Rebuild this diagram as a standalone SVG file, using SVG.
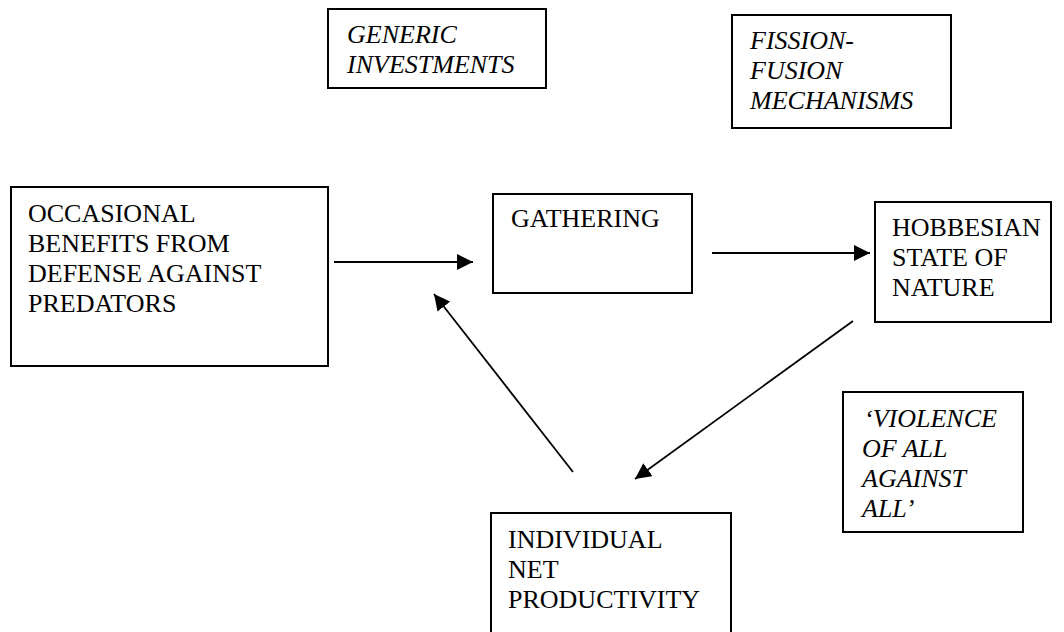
<svg xmlns="http://www.w3.org/2000/svg" width="1064" height="632" viewBox="0 0 1064 632">
<style>
.box{fill:#fff;stroke:#000;stroke-width:2}
.t{font-family:'Liberation Serif','Times New Roman',serif;font-size:26px;fill:#000}
.i{font-style:italic}
.c{stroke:#000;stroke-width:1.8;fill:none}
</style>
<defs>
<marker id="ah" markerUnits="userSpaceOnUse" markerWidth="17" markerHeight="17" refX="16" refY="8" orient="auto">
<path d="M0,0 L16,8 L0,16 z" fill="#000"/>
</marker>
</defs>
<rect width="1064" height="632" fill="#fff"/>
<g id="generic">
<rect class="box" x="328" y="9" width="218" height="79"/>
<text class="t i"><tspan x="347" y="43">GENERIC</tspan><tspan x="347" y="73">INVESTMENTS</tspan></text>
</g>
<g id="fission">
<rect class="box" x="732" y="15" width="219" height="113"/>
<text class="t i"><tspan x="750" y="49">FISSION-</tspan><tspan x="750" y="79">FUSION</tspan><tspan x="750" y="109">MECHANISMS</tspan></text>
</g>
<g id="occasional">
<rect class="box" x="11" y="187" width="317" height="179"/>
<text class="t"><tspan x="28" y="222">OCCASIONAL</tspan><tspan x="28" y="252">BENEFITS FROM</tspan><tspan x="28" y="282">DEFENSE AGAINST</tspan><tspan x="28" y="312">PREDATORS</tspan></text>
</g>
<g id="gathering">
<rect class="box" x="493" y="194" width="199" height="99"/>
<text class="t" x="511" y="227">GATHERING</text>
</g>
<g id="hobbesian">
<rect class="box" x="875" y="202" width="176" height="120"/>
<text class="t"><tspan x="892" y="236">HOBBESIAN</tspan><tspan x="892" y="266">STATE OF</tspan><tspan x="892" y="296">NATURE</tspan></text>
</g>
<g id="violence">
<rect class="box" x="843" y="392" width="180" height="140"/>
<text class="t i"><tspan x="864" y="427">‘VIOLENCE</tspan><tspan x="862" y="457">OF ALL</tspan><tspan x="862" y="487">AGAINST</tspan><tspan x="862" y="517">ALL’</tspan></text>
</g>
<g id="individual">
<rect class="box" x="491" y="513" width="240" height="130"/>
<text class="t"><tspan x="508" y="548">INDIVIDUAL</tspan><tspan x="508" y="578">NET</tspan><tspan x="508" y="608">PRODUCTIVITY</tspan></text>
</g>
<g id="connectors">
<line class="c" x1="334" y1="262" x2="473" y2="262" marker-end="url(#ah)"/>
<line class="c" x1="712" y1="253" x2="870" y2="253" marker-end="url(#ah)"/>
<line class="c" x1="853" y1="321" x2="635" y2="479" marker-end="url(#ah)"/>
<line class="c" x1="573" y1="472" x2="434" y2="294" marker-end="url(#ah)"/>
</g>
</svg>
